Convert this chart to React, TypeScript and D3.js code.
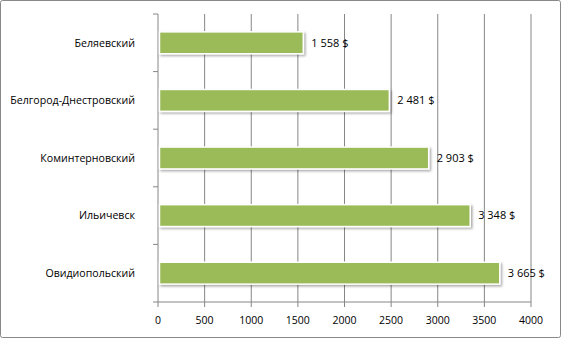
import React from "react";
import * as d3 from "d3";

const categories = ["Беляевский", "Белгород-Днестровский", "Коминтерновский", "Ильичевск", "Овидиопольский"];
const values = [1558, 2481, 2903, 3348, 3665];
const xTicks = [0, 500, 1000, 1500, 2000, 2500, 3000, 3500, 4000];

const W = 561, H = 338;
const left = 158, right = 531, top = 14, bottom = 302;

export default function App() {
  const x = d3.scaleLinear().domain([0, 4000]).range([left, right]);
  const y = d3.scaleBand<string>().domain(categories).range([top, bottom]).paddingInner(0.62).paddingOuter(0.31);
  const band = (bottom - top) / categories.length;
  const fmt = (v: number) => {
    const s = String(v);
    return s.length > 3 ? s.slice(0, s.length - 3) + " " + s.slice(-3) + " $" : s + " $";
  };
  const font = "'Open Sans', 'DejaVu Sans', sans-serif";
  return (
    <svg width={W} height={H} style={{ position: "fixed", left: 0, top: 0 }} fontFamily={font}>
      <defs>
        <filter id="sh" x="-10%" y="-30%" width="130%" height="180%">
          <feDropShadow dx="1.5" dy="1.5" stdDeviation="1.2" floodColor="#000" floodOpacity="0.35" />
        </filter>
      </defs>
      <rect x={0} y={0} width={W} height={H} fill="#fff" />
      <rect x={0.5} y={0.5} width={W - 1} height={H - 1} fill="none" stroke="#888" strokeWidth={1} rx={2} />
      {xTicks.map((t) => (
        <g key={t}>
          {t > 0 && <line x1={x(t)} x2={x(t)} y1={top} y2={bottom} stroke="#868686" strokeWidth={1} />}
          <line x1={x(t)} x2={x(t)} y1={bottom} y2={bottom + 5} stroke="#868686" />
          <text x={x(t)} y={bottom + 22} fontSize={10.5} textAnchor="middle" fill="#000">{t}</text>
        </g>
      ))}
      <line x1={left} x2={left} y1={top} y2={bottom} stroke="#868686" />
      <line x1={left} x2={right} y1={bottom} y2={bottom} stroke="#868686" />
      {d3.range(categories.length + 1).map((i) => (
        <line key={i} x1={left - 5} x2={left} y1={top + i * band} y2={top + i * band} stroke="#868686" />
      ))}
      {categories.map((c, i) => {
        const yy = y(c)!;
        const h = y.bandwidth();
        const v = values[i];
        return (
          <g key={c}>
            <rect x={x(0) + 1.5} y={yy} width={x(v) - x(0) - 1.5} height={h} fill="#9BBB59" stroke="#fff" strokeWidth={1.5} filter="url(#sh)" />
            <text x={x(v) + 8} y={yy + h / 2} dy="0.35em" fontSize={11} fill="#000">{fmt(v)}</text>
            <text x={135} y={yy + h / 2} dy="0.35em" fontSize={10.6} textAnchor="end" fill="#000">{c}</text>
          </g>
        );
      })}
    </svg>
  );
}
